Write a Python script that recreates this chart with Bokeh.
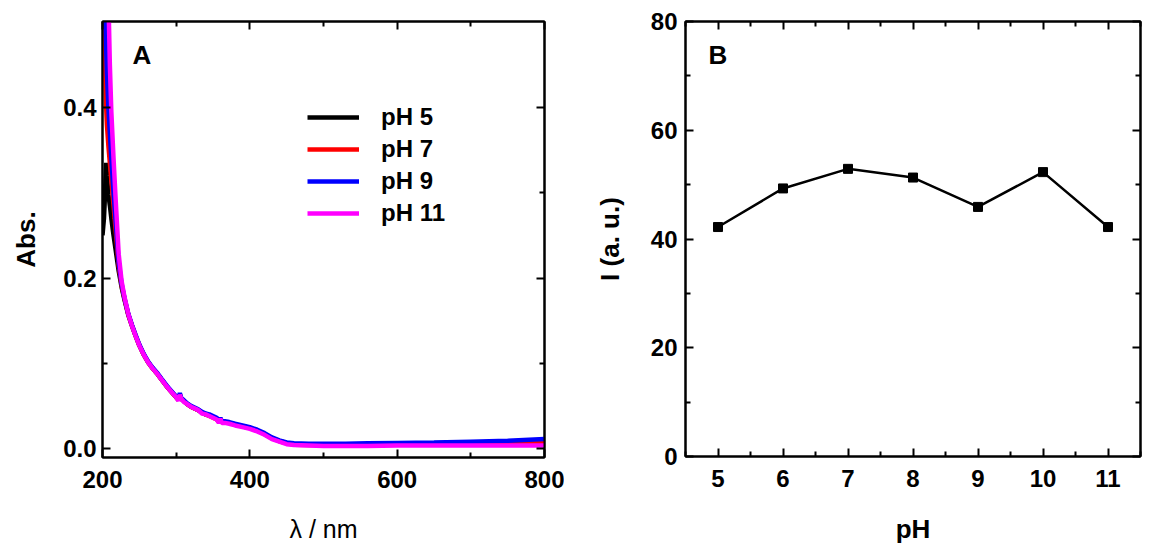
from bokeh.plotting import figure
from bokeh.layouts import row
from bokeh.models import (LinearAxis, FixedTicker, PrintfTickFormatter, Legend,
                          LegendItem, Label, Range1d)
from bokeh.embed import file_html
from bokeh.resources import INLINE

# ---------------- Data: panel A (UV-vis spectra) ----------------
WL = [200, 201, 202, 203, 204, 205, 206, 208, 210, 212, 215, 218, 222, 226, 230,
      235, 240, 245, 250, 256, 262, 268, 274, 280, 287, 294, 300, 303, 305, 307,
      310, 315, 320, 325, 330, 335, 340, 345, 350, 355, 358, 360, 362, 366, 372,
      380, 390, 400, 410, 420, 430, 440, 450, 460, 480, 500, 530, 560, 600, 650,
      700, 750, 800]

ABS_PH5 = [0.25, 0.26, 0.27, 0.29, 0.315, 0.335, 0.32, 0.298, 0.285, 0.27, 0.25,
           0.232, 0.208, 0.189, 0.174, 0.157, 0.144, 0.132, 0.121, 0.110, 0.101,
           0.094, 0.088, 0.081, 0.073, 0.066, 0.060, 0.057, 0.063, 0.058, 0.056,
           0.052, 0.049, 0.047, 0.045, 0.042, 0.040, 0.039, 0.037, 0.035, 0.032,
           0.035, 0.031, 0.031, 0.030, 0.028, 0.026, 0.024, 0.021, 0.017, 0.012,
           0.009, 0.0065, 0.005, 0.0048, 0.0048, 0.0048, 0.005, 0.0055, 0.006,
           0.007, 0.008, 0.0095]

ABS_PH7 = [0.90, 0.70, 0.56, 0.48, 0.43, 0.40, 0.38, 0.355, 0.335, 0.315, 0.285,
           0.255, 0.214, 0.191, 0.175, 0.157, 0.144, 0.132, 0.121, 0.110, 0.101,
           0.094, 0.088, 0.081, 0.073, 0.066, 0.060, 0.057, 0.062, 0.058, 0.056,
           0.052, 0.049, 0.047, 0.045, 0.042, 0.040, 0.038, 0.036, 0.034, 0.031,
           0.034, 0.031, 0.031, 0.030, 0.028, 0.026, 0.024, 0.021, 0.017, 0.012,
           0.0085, 0.006, 0.0045, 0.004, 0.004, 0.004, 0.0042, 0.0045, 0.005,
           0.0055, 0.006, 0.007]

ABS_PH9 = [1.00, 0.85, 0.70, 0.58, 0.50, 0.47, 0.44, 0.40, 0.37, 0.34, 0.30,
           0.265, 0.218, 0.193, 0.176, 0.158, 0.145, 0.133, 0.122, 0.111, 0.102,
           0.095, 0.089, 0.082, 0.074, 0.067, 0.061, 0.058, 0.065, 0.059, 0.057,
           0.053, 0.050, 0.048, 0.046, 0.043, 0.041, 0.040, 0.038, 0.036, 0.033,
           0.036, 0.032, 0.032, 0.031, 0.029, 0.027, 0.025, 0.022, 0.018, 0.013,
           0.0095, 0.007, 0.006, 0.0055, 0.0055, 0.0055, 0.006, 0.0065, 0.007,
           0.008, 0.009, 0.011]

ABS_PH11 = [1.20, 1.10, 1.00, 0.90, 0.80, 0.72, 0.64, 0.53, 0.45, 0.395, 0.34,
            0.29, 0.228, 0.196, 0.177, 0.158, 0.144, 0.132, 0.121, 0.110, 0.101,
            0.094, 0.088, 0.081, 0.073, 0.066, 0.060, 0.056, 0.063, 0.058, 0.055,
            0.052, 0.049, 0.047, 0.045, 0.041, 0.040, 0.038, 0.036, 0.034, 0.030,
            0.035, 0.030, 0.030, 0.029, 0.027, 0.025, 0.023, 0.020, 0.016, 0.011,
            0.008, 0.005, 0.004, 0.0035, 0.003, 0.003, 0.003, 0.0035, 0.0035,
            0.0035, 0.0035, 0.0035]

SERIES_LABELS = ["pH 5", "pH 7", "pH 9", "pH 11"]
SERIES_COLORS = ["#000000", "#ff0000", "#0000ff", "#ff00ff"]

A_XTICKS = [200, 400, 600, 800]
A_XMINOR = [300, 500, 700]
A_YTICKS = [0.0, 0.2, 0.4]
A_YMINOR = [0.1, 0.3]

# ---------------- Data: panel B (intensity vs pH) ----------------
PH = [5, 6, 7, 8, 9, 10, 11]
INTENSITY = [42.2, 49.3, 52.9, 51.3, 45.9, 52.3, 42.2]

B_XTICKS = [5, 6, 7, 8, 9, 10, 11]
B_XMINOR = [4.5, 5.5, 6.5, 7.5, 8.5, 9.5, 10.5, 11.5]
B_YTICKS = [0, 20, 40, 60, 80]
B_YMINOR = [10, 30, 50, 70]

FONT = "Liberation Sans"
TICK_SIZE = "24px"
LABEL_SIZE = "26px"


def style_axis(ax, ticks, minor, show_labels=True):
    ax.ticker = FixedTicker(ticks=ticks, minor_ticks=minor)
    ax.axis_line_width = 2
    ax.axis_line_color = "black"
    ax.major_tick_in = 8
    ax.major_tick_out = 0
    ax.minor_tick_in = 5
    ax.minor_tick_out = 0
    ax.major_tick_line_width = 2
    ax.minor_tick_line_width = 2
    ax.major_tick_line_color = "black"
    ax.minor_tick_line_color = "black"
    if show_labels:
        ax.major_label_text_font = FONT
        ax.major_label_text_font_style = "bold"
        ax.major_label_text_font_size = TICK_SIZE
        ax.major_label_text_color = "black"
        ax.axis_label_text_font = FONT
        ax.axis_label_text_font_style = "bold"
        ax.axis_label_text_font_size = LABEL_SIZE
        ax.axis_label_text_color = "black"
    else:
        # mirror axis: ticks only, labels not painted
        ax.major_label_overrides = {t: "" for t in ticks}
        ax.major_label_text_color = None
        ax.major_label_text_alpha = 0
        ax.major_label_standoff = 0
        ax.axis_label = None


def mirror_axes(p, xt, xm, yt, ym):
    top = LinearAxis()
    style_axis(top, xt, xm, show_labels=False)
    p.add_layout(top, "above")
    right = LinearAxis()
    style_axis(right, yt, ym, show_labels=False)
    p.add_layout(right, "right")


# ---------------- Panel A ----------------
pa = figure(frame_width=442, frame_height=436,
            x_range=Range1d(200, 800), y_range=Range1d(-0.0106, 0.501),
            output_backend="svg", toolbar_location=None,
            min_border_left=102, min_border_right=20,
            min_border_top=21, min_border_bottom=85)
pa.grid.visible = False
pa.outline_line_color = "black"
pa.outline_line_width = 2
pa.background_fill_color = "white"
pa.border_fill_color = "white"

renderers = []
for ys, col in zip([ABS_PH5, ABS_PH7, ABS_PH9, ABS_PH11], SERIES_COLORS):
    r = pa.line(WL, ys, line_color=col, line_width=4.5)
    renderers.append(r)

style_axis(pa.xaxis[0], A_XTICKS, A_XMINOR)
style_axis(pa.yaxis[0], A_YTICKS, A_YMINOR)
pa.xaxis[0].major_label_standoff = 13
pa.yaxis[0].major_label_standoff = 6
pa.yaxis[0].formatter = PrintfTickFormatter(format="%.1f")
pa.xaxis[0].axis_label = "λ / nm"
pa.xaxis[0].axis_label_text_font_style = "normal"
pa.xaxis[0].axis_label_text_font_size = "25px"
pa.xaxis[0].axis_label_standoff = 24
pa.yaxis[0].axis_label = "Abs."
pa.yaxis[0].axis_label_standoff = 19
mirror_axes(pa, A_XTICKS, A_XMINOR, A_YTICKS, A_YMINOR)

legend = Legend(items=[LegendItem(label=lab, renderers=[r])
                       for lab, r in zip(SERIES_LABELS, renderers)],
                location=(205, 228), orientation="vertical",
                glyph_width=52, glyph_height=32, label_height=32,
                label_standoff=22, spacing=0, padding=0, margin=0,
                border_line_alpha=0, background_fill_alpha=0,
                label_text_font=FONT, label_text_font_style="bold",
                label_text_font_size="24px", label_text_color="black")
pa.add_layout(legend, "center")

pa.add_layout(Label(x=30, y=418, x_units="screen", y_units="screen", text="A",
                    text_font=FONT, text_font_style="bold", text_font_size="26px",
                    text_baseline="top", text_color="black"))

# ---------------- Panel B ----------------
pb = figure(frame_width=455, frame_height=435,
            x_range=Range1d(4.5, 11.5), y_range=Range1d(0, 80),
            output_backend="svg", toolbar_location=None,
            min_border_left=121, min_border_right=10,
            min_border_top=21, min_border_bottom=85)
pb.grid.visible = False
pb.outline_line_color = "black"
pb.outline_line_width = 2
pb.background_fill_color = "white"
pb.border_fill_color = "white"

pb.line(PH, INTENSITY, line_color="black", line_width=2.5)
pb.scatter(PH, INTENSITY, marker="square", size=9, fill_color="black",
           line_color="black")

style_axis(pb.xaxis[0], B_XTICKS, B_XMINOR)
style_axis(pb.yaxis[0], B_YTICKS, B_YMINOR)
pb.xaxis[0].major_label_standoff = 13
pb.yaxis[0].major_label_standoff = 8
pb.xaxis[0].axis_label = "pH"
pb.xaxis[0].axis_label_standoff = 24
pb.yaxis[0].axis_label = "I (a. u.)"
pb.yaxis[0].axis_label_standoff = 23
mirror_axes(pb, B_XTICKS, B_XMINOR, B_YTICKS, B_YMINOR)

pb.add_layout(Label(x=23, y=417, x_units="screen", y_units="screen", text="B",
                    text_font=FONT, text_font_style="bold", text_font_size="26px",
                    text_baseline="top", text_color="black"))

layout = row(pa, pb, spacing=0)
open("out.html", "w").write(file_html(layout, INLINE))
